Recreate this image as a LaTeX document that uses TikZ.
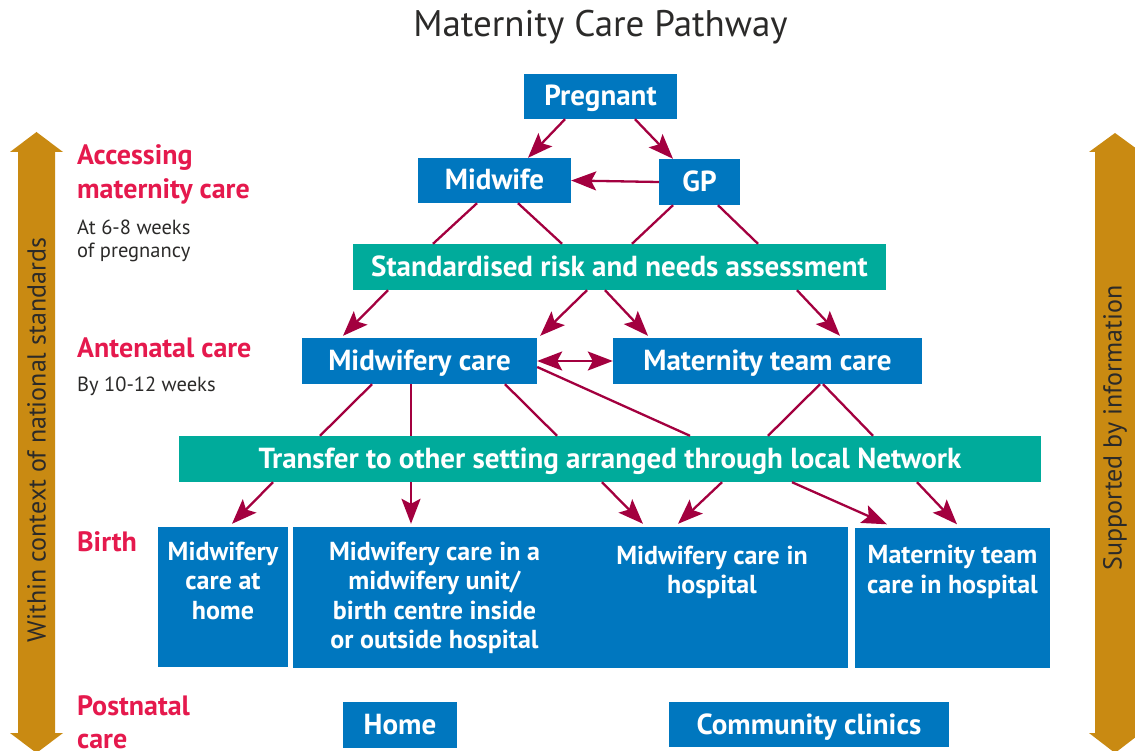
\documentclass[tikz,border=0pt]{standalone}
\usepackage{fontspec}
\setmainfont{PT Sans}
\usetikzlibrary{arrows.meta,calc}
\definecolor{boxblue}{HTML}{0077BF}
\definecolor{boxteal}{HTML}{00AB9B}
\definecolor{linkred}{HTML}{A3003F}
\definecolor{labred}{HTML}{E5194D}
\definecolor{gold}{HTML}{C98A12}
\definecolor{darktext}{HTML}{2B2A29}
\newcommand\mcpBoxFont{\bfseries\fontsize{29}{34}\selectfont}
\newcommand\mcpTallFont{\bfseries\fontsize{26}{29.5}\selectfont}
\newcommand\mcpStageFont{\bfseries\fontsize{28}{32}\selectfont}
\newcommand\mcpNoteFont{\fontsize{20.5}{24}\selectfont}
\newcommand\mcpSideFont{\fontsize{26}{30}\selectfont}
\newcommand\mcpTitleFont{\fontsize{37}{42}\selectfont}
\begin{document}
\begin{tikzpicture}[x=1pt,y=-1pt,
  box/.style={fill=boxblue,text=white,inner sep=0pt,font=\mcpBoxFont,text height=22pt,text depth=3pt},
  tbox/.style={box,fill=boxteal},
  tall/.style={fill=boxblue,text=white,inner sep=0pt,font=\mcpTallFont},
  link/.style={draw=linkred,line width=2.3pt},
  arr/.style={link,-{Stealth[length=25pt,width=19pt,inset=5pt]}},
  darr/.style={link,{Stealth[length=25pt,width=19pt,inset=5pt]}-{Stealth[length=25pt,width=19pt,inset=5pt]}},
  stage/.style={text=labred,font=\mcpStageFont,anchor=base west,inner sep=0pt},
  note/.style={text=darktext,font=\mcpNoteFont,anchor=base west,inner sep=0pt},
  side/.style={text=darktext,font=\mcpSideFont,rotate=90,inner sep=0pt}
]
\useasboundingbox (0,0) rectangle (1135,751);
\clip (0,0) rectangle (1135,751);

% side arrows
\fill[gold] (10,152) -- (36.5,132) -- (63,152) -- (55,152) -- (55,733) -- (63,733) -- (36.5,753) -- (10,733) -- (18,733) -- (18,152) -- cycle;
\fill[gold] (1089,152) -- (1115,133) -- (1141,152) -- (1135,152) -- (1135,733) -- (1141,733) -- (1115,753) -- (1089,733) -- (1095,733) -- (1095,152) -- cycle;
\node[side] (within) at (36.5,440) {Within context of national standards};
\node[side] (supported) at (1115,428) {Supported by information};

% title
\node[text=darktext,font=\mcpTitleFont,inner sep=0pt] (title) at (600.5,27) {Maternity Care Pathway};

% stage labels
\node[stage] (acc1) at (77,165) {Accessing};
\node[stage] (acc2) at (77,199) {maternity care};
\node[note] (acc3) at (77,235) {At 6-8 weeks};
\node[note] (acc4) at (77,258) {of pregnancy};
\node[stage] (ante1) at (77,357) {Antenatal care};
\node[note] (ante2) at (77,391) {By 10-12 weeks};
\node[stage] (birth) at (77,551) {Birth};
\node[stage] (post1) at (77,715) {Postnatal};
\node[stage] (post2) at (77,748) {care};

% boxes
\node[box,minimum width=153pt,minimum height=45pt] (pregnant) at (600.5,96.5) {Pregnant};
\node[box,minimum width=153pt,minimum height=45pt] (midwife) at (494.5,180.5) {Midwife};
\node[box,minimum width=81pt,minimum height=46pt] (gp) at (699.5,182) {GP};
\node[tbox,minimum width=533pt,minimum height=46pt] (risk) at (619.5,267) {Standardised risk and needs assessment};
\node[box,minimum width=235pt,minimum height=46pt] (mcare) at (419.5,361) {Midwifery care};
\node[box,minimum width=309pt,minimum height=46pt] (mteam) at (767.5,361) {Maternity team care};
\node[tbox,minimum width=862pt,minimum height=46pt] (transfer) at (610,459) {Transfer to other setting arranged through local Network};

\node[tall,minimum width=130pt,minimum height=140pt] (homeb) at (223,597)
  {\parbox[c][140pt][t]{130pt}{\centering\rule{0pt}{33pt}Midwifery\\care at\\home\par}};
\node[tall,minimum width=283pt,minimum height=141pt] (unit) at (434.5,597.5)
  {\parbox[c][141pt][t]{283pt}{\centering\rule{0pt}{33pt}Midwifery care in a\\midwifery unit/\\birth centre inside\\or outside hospital\par}};
\node[tall,minimum width=272pt,minimum height=141pt] (hosp) at (712,597.5)
  {\parbox[c][141pt][t]{272pt}{\centering\rule{0pt}{37pt}Midwifery care in\\hospital\par}};
\node[tall,minimum width=195pt,minimum height=140pt] (mteamhosp) at (952.5,597.5)
  {\parbox[c][140pt][t]{195pt}{\centering\rule{0pt}{36pt}Maternity team\\care in hospital\par}};

\node[box,minimum width=114pt,minimum height=46pt] (home) at (400,725) {Home};
\node[box,minimum width=280pt,minimum height=45pt] (clinics) at (809,724.5) {Community clinics};

% connectors
\draw[arr] ([xshift=-35.5pt]pregnant.south) -- ([xshift=33.5pt]midwife.north);
\draw[arr] ([xshift=34.5pt]pregnant.south) -- ([xshift=-26.5pt]gp.north);
\draw[arr] (gp.west) -- (midwife.east);

\draw[link] ([xshift=-17.5pt]midwife.south) -- ([xshift=-186.5pt]risk.north);
\draw[link] ([xshift=23.5pt]midwife.south) -- ([xshift=-57.5pt]risk.north);
\draw[link] ([xshift=-26.5pt]gp.south) -- ([xshift=12.5pt]risk.north);
\draw[link] ([xshift=18.5pt]gp.south) -- ([xshift=138.5pt]risk.north);

\draw[arr] ([xshift=-231.5pt]risk.south) -- ([xshift=-76.5pt,yshift=2pt]mcare.north);
\draw[arr] ([xshift=-32.5pt]risk.south) -- ([xshift=3pt,yshift=2pt]mcare.north east);
\draw[arr] ([xshift=-14.5pt]risk.south) -- ([xshift=-119.5pt,yshift=2pt]mteam.north);
\draw[arr] ([xshift=177.5pt]risk.south) -- ([xshift=72.5pt,yshift=2pt]mteam.north);

\draw[darr] (mcare.east) -- (mteam.west);

\draw[link] ([xshift=-47.5pt]mcare.south) -- ([xshift=-290pt]transfer.north);
\draw[link] ([xshift=-8.5pt]mcare.south) -- ([xshift=-199pt]transfer.north);
\draw[link] ([xshift=85.5pt]mcare.south) -- ([xshift=-53pt]transfer.north);
\draw[link] ([yshift=-6pt]mcare.east) -- ([xshift=80pt]transfer.north);
\draw[link] ([xshift=52.5pt]mteam.south) -- ([xshift=158pt]transfer.north);
\draw[link] ([xshift=55.5pt]mteam.south) -- ([xshift=263pt]transfer.north);

\draw[arr] ([xshift=-337pt]transfer.south) -- ([xshift=9pt,yshift=3pt]homeb.north);
\draw[arr] ([xshift=-199pt]transfer.south) -- ([xshift=-23.5pt,yshift=3pt]unit.north);
\draw[arr] ([xshift=-8pt]transfer.south) -- ([xshift=-69pt,yshift=3pt]hosp.north);
\draw[arr] ([xshift=112pt]transfer.south) -- ([xshift=-34pt,yshift=3pt]hosp.north);
\draw[arr] ([xshift=182pt]transfer.south) -- ([xshift=-65.5pt,yshift=3pt]mteamhosp.north);
\draw[arr] ([xshift=307pt]transfer.south) -- ([xshift=4.5pt,yshift=3pt]mteamhosp.north);
\end{tikzpicture}
\end{document}
